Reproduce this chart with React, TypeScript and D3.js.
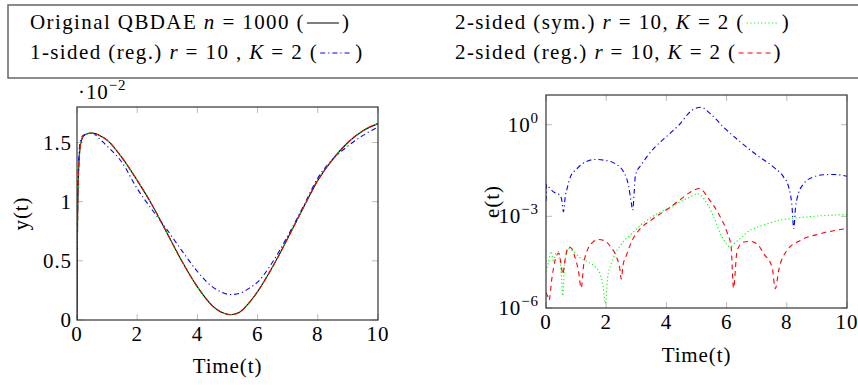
import React, { useRef, useEffect } from 'react';
import * as d3 from 'd3';

// left plot: y(t) in units of 1e-2
const timeY = [0, 0.01, 0.02, 0.04, 0.07, 0.1, 0.15, 0.2, 0.3, 0.5, 0.75, 1, 1.5, 2, 2.5, 3, 3.5, 4, 4.5, 4.8, 5.1, 5.4, 5.7, 6, 6.5, 7, 7.5, 8, 8.5, 9, 9.5, 10];
const yOriginal = [0, 0.5, 0.85, 1.15, 1.35, 1.45, 1.52, 1.55, 1.57, 1.58, 1.56, 1.52, 1.37, 1.18, 0.97, 0.73, 0.49, 0.28, 0.12, 0.065, 0.045, 0.065, 0.14, 0.24, 0.45, 0.69, 0.94, 1.18, 1.36, 1.5, 1.6, 1.66];
const yOneSided = [0, 0.6, 0.95, 1.25, 1.42, 1.5, 1.54, 1.56, 1.57, 1.58, 1.53, 1.47, 1.33, 1.11, 0.93, 0.76, 0.58, 0.41, 0.28, 0.235, 0.215, 0.225, 0.265, 0.32, 0.49, 0.71, 0.95, 1.2, 1.36, 1.47, 1.56, 1.63];

// right plot: log10 of e(t)
const timeErrBlue = [0, 0.02, 0.1, 0.25, 0.45, 0.52, 0.58, 0.64, 0.7, 0.81, 1.03, 1.31, 1.64, 1.97, 2.3, 2.58, 2.74, 2.83, 2.88, 2.93, 2.97, 3.19, 3.36, 3.63, 4.07, 4.41, 4.85, 5.15, 5.46, 5.9, 6.46, 7.01, 7.56, 7.89, 8.06, 8.17, 8.23, 8.29, 8.34, 8.56, 8.89, 9.22, 9.55, 10];
const errBlueLog = [-2.5, -1.95, -2.05, -2.2, -2.3, -2.45, -2.85, -2.35, -2.09, -1.71, -1.44, -1.22, -1.14, -1.17, -1.28, -1.55, -1.99, -2.53, -2.8, -2.2, -1.66, -1.28, -1.04, -0.73, -0.33, -0.02, 0.47, 0.57, 0.36, -0.08, -0.57, -1.0, -1.39, -1.71, -2.04, -2.64, -3.4, -2.7, -2.42, -1.93, -1.71, -1.64, -1.63, -1.69];

const timeErrGreen = [0, 0.08, 0.17, 0.25, 0.33, 0.42, 0.5, 0.56, 0.62, 0.75, 0.9, 1.1, 1.4, 1.64, 1.8, 1.9, 1.97, 2.05, 2.15, 2.25, 2.52, 2.91, 3.13, 3.5, 4.13, 4.5, 4.79, 5.02, 5.35, 5.57, 5.85, 6.12, 6.3, 6.46, 6.79, 7.12, 7.78, 8.67, 10];
const errGreenLog = [-4.8, -4.5, -4.15, -4.5, -4.2, -4.15, -4.8, -5.6, -4.6, -4.05, -4.15, -4.33, -4.5, -4.66, -4.9, -5.3, -5.85, -5.0, -4.6, -4.33, -3.89, -3.51, -3.3, -3.03, -2.7, -2.5, -2.37, -2.26, -2.58, -3.02, -3.68, -4.0, -3.85, -3.72, -3.45, -3.32, -3.13, -3.02, -2.94];

const timeErrRed = [0, 0.05, 0.1, 0.2, 0.3, 0.42, 0.5, 0.56, 0.62, 0.75, 0.85, 0.95, 1.08, 1.17, 1.25, 1.4, 1.55, 1.75, 1.95, 2.15, 2.35, 2.45, 2.5, 2.56, 2.67, 2.86, 3.08, 3.5, 4.13, 4.5, 4.79, 5.1, 5.4, 5.73, 6.01, 6.15, 6.23, 6.35, 6.57, 6.79, 7.06, 7.23, 7.51, 7.62, 7.73, 8.01, 8.45, 9.11, 10];
const errRedLog = [-5.5, -5.6, -5.75, -5.0, -4.45, -4.2, -4.55, -4.9, -4.5, -4.0, -4.05, -4.3, -4.8, -5.35, -4.6, -4.05, -3.85, -3.76, -3.8, -4.0, -4.35, -4.7, -5.05, -4.6, -4.28, -3.79, -3.46, -3.12, -2.7, -2.42, -2.21, -2.09, -2.42, -2.91, -3.51, -4.0, -5.35, -4.11, -3.84, -3.82, -3.95, -4.22, -4.66, -5.37, -4.77, -4.11, -3.79, -3.57, -3.4];

const xTicks = [0, 2, 4, 6, 8, 10];
const yTicksLeft = [0, 0.5, 1, 1.5];
const yTicksRightExp = [-6, -3, 0];

const FONT = '"Liberation Serif", "DejaVu Serif", serif';
const FS = 21;
const SUP = 15;

const App: React.FC = () => {
  const svgRef = useRef<SVGSVGElement | null>(null);

  useEffect(() => {
    const svg = d3.select(svgRef.current);
    svg.selectAll('*').remove();
    svg.attr('font-family', FONT).attr('letter-spacing', 0.9);

    // ---------- legend ----------
    const lg = svg.append('g').attr('letter-spacing', 1.4);
    lg.append('rect').attr('x', 8).attr('y', 5).attr('width', 870).attr('height', 73)
      .attr('fill', 'white').attr('stroke', '#666').attr('stroke-width', 1.5);

    type Part = { s: string; it?: boolean };
    const entry = (x: number, y: number, parts: Part[], color: string, dash: string | null) => {
      const t = lg.append('text').attr('x', x).attr('y', y).attr('font-size', FS)
        .style('white-space', 'pre');
      parts.forEach(p => t.append('tspan').attr('font-style', p.it ? 'italic' : null).text(p.s));
      const w = (t.node() as SVGTextElement).getComputedTextLength();
      lg.append('line').attr('x1', x + w + 2).attr('x2', x + w + 34)
        .attr('y1', y - 6).attr('y2', y - 6)
        .attr('stroke', color).attr('stroke-width', 1.2)
        .attr('stroke-dasharray', dash);
      lg.append('text').attr('x', x + w + 37).attr('y', y).attr('font-size', FS).text(')');
    };
    entry(30, 29, [{ s: 'Original QBDAE ' }, { s: 'n', it: true }, { s: ' = 1000 (' }], 'black', null);
    entry(455, 29, [{ s: '2-sided (sym.) ' }, { s: 'r', it: true }, { s: ' = 10, ' }, { s: 'K', it: true }, { s: ' = 2 (' }], '#00ff00', '1.2,2.4');
    entry(30, 59, [{ s: '1-sided (reg.) ' }, { s: 'r', it: true }, { s: ' = 10 , ' }, { s: 'K', it: true }, { s: ' = 2 (' }], 'blue', '5,3,1.2,3');
    entry(455, 59, [{ s: '2-sided (reg.) ' }, { s: 'r', it: true }, { s: ' = 10, ' }, { s: 'K', it: true }, { s: ' = 2 (' }], 'red', '5,4');

    // ---------- left plot ----------
    const L = { x0: 77, x1: 378, y0: 107, y1: 320 };
    const xl = d3.scaleLinear().domain([0, 10]).range([L.x0, L.x1]);
    const yl = d3.scaleLinear().domain([0, 1.8]).range([L.y1, L.y0]);

    const defs = svg.append('defs');
    defs.append('clipPath').attr('id', 'clipL').append('rect')
      .attr('x', L.x0).attr('y', L.y0).attr('width', L.x1 - L.x0).attr('height', L.y1 - L.y0);

    const gl = svg.append('g');
    xTicks.forEach(v => {
      gl.append('line').attr('x1', xl(v)).attr('x2', xl(v)).attr('y1', L.y1).attr('y2', L.y1 - 6).attr('stroke', '#bbb');
      gl.append('line').attr('x1', xl(v)).attr('x2', xl(v)).attr('y1', L.y0).attr('y2', L.y0 + 6).attr('stroke', '#bbb');
      gl.append('text').attr('x', xl(v)).attr('y', 341).attr('text-anchor', 'middle').attr('font-size', FS).text(String(v));
    });
    yTicksLeft.forEach(v => {
      gl.append('line').attr('x1', L.x0).attr('x2', L.x0 + 6).attr('y1', yl(v)).attr('y2', yl(v)).attr('stroke', '#bbb');
      gl.append('line').attr('x1', L.x1).attr('x2', L.x1 - 6).attr('y1', yl(v)).attr('y2', yl(v)).attr('stroke', '#bbb');
      gl.append('text').attr('x', 72).attr('y', yl(v) + 7).attr('text-anchor', 'end').attr('font-size', FS).text(String(v));
    });

    const lineL = (ts: number[], ys: number[]) =>
      d3.line<number>().x((_, i) => xl(ts[i])).y(d => yl(d)).curve(d3.curveMonotoneX)(ys);

    const pl = gl.append('g').attr('clip-path', 'url(#clipL)').attr('fill', 'none');
    pl.append('path').attr('d', lineL(timeY, yOriginal)).attr('stroke', 'black').attr('stroke-width', 1.1);
    pl.append('path').attr('d', lineL(timeY, yOneSided)).attr('stroke', 'blue').attr('stroke-width', 1.1).attr('stroke-dasharray', '5,3,1.2,3');
    pl.append('path').attr('d', lineL(timeY, yOriginal)).attr('stroke', '#00ff00').attr('stroke-width', 1.1).attr('stroke-dasharray', '1.2,2.4');
    pl.append('path').attr('d', lineL(timeY, yOriginal)).attr('stroke', 'red').attr('stroke-width', 1.1).attr('stroke-dasharray', '5,4');

    gl.append('rect').attr('x', L.x0).attr('y', L.y0).attr('width', L.x1 - L.x0).attr('height', L.y1 - L.y0)
      .attr('fill', 'none').attr('stroke', '#333').attr('stroke-width', 1.2);

    const sc = gl.append('text').attr('x', 78).attr('y', 99).attr('font-size', FS);
    sc.append('tspan').text('·10');
    sc.append('tspan').attr('dy', -9).attr('font-size', SUP).text('−2');

    gl.append('text').attr('x', (L.x0 + L.x1) / 2).attr('y', 373).attr('text-anchor', 'middle').attr('font-size', FS).text('Time(t)');
    gl.append('text').attr('transform', `translate(28,${(L.y0 + L.y1) / 2}) rotate(-90)`)
      .attr('text-anchor', 'middle').attr('font-size', FS).text('y(t)');

    // ---------- right plot ----------
    const R = { x0: 546, x1: 847, y0: 95, y1: 308 };
    const xr = d3.scaleLinear().domain([0, 10]).range([R.x0, R.x1]);
    const yr = d3.scaleLog().domain([1e-6, Math.pow(10, 0.97)]).range([R.y1, R.y0]);

    defs.append('clipPath').attr('id', 'clipR').append('rect')
      .attr('x', R.x0).attr('y', R.y0).attr('width', R.x1 - R.x0).attr('height', R.y1 - R.y0);

    const gr = svg.append('g');
    xTicks.forEach(v => {
      gr.append('line').attr('x1', xr(v)).attr('x2', xr(v)).attr('y1', R.y1).attr('y2', R.y1 - 6).attr('stroke', '#bbb');
      gr.append('line').attr('x1', xr(v)).attr('x2', xr(v)).attr('y1', R.y0).attr('y2', R.y0 + 6).attr('stroke', '#bbb');
      gr.append('text').attr('x', xr(v)).attr('y', 329).attr('text-anchor', 'middle').attr('font-size', FS).text(String(v));
    });
    yTicksRightExp.forEach(e => {
      const yy = yr(Math.pow(10, e));
      gr.append('line').attr('x1', R.x0).attr('x2', R.x0 + 6).attr('y1', yy).attr('y2', yy).attr('stroke', '#bbb');
      gr.append('line').attr('x1', R.x1).attr('x2', R.x1 - 6).attr('y1', yy).attr('y2', yy).attr('stroke', '#bbb');
      const t = gr.append('text').attr('x', 539).attr('y', yy + 7).attr('text-anchor', 'end').attr('font-size', FS);
      t.append('tspan').text('10');
      t.append('tspan').attr('dy', -9).attr('font-size', SUP).text(e === 0 ? '0' : `−${-e}`);
    });

    const lineR = (ts: number[], es: number[]) =>
      d3.line<number>().x((_, i) => xr(ts[i])).y(d => yr(Math.pow(10, d))).curve(d3.curveMonotoneX)(es);

    const pr = gr.append('g').attr('clip-path', 'url(#clipR)').attr('fill', 'none');
    pr.append('path').attr('d', lineR(timeErrBlue, errBlueLog)).attr('stroke', 'blue').attr('stroke-width', 1.1).attr('stroke-dasharray', '5,3,1.2,3');
    pr.append('path').attr('d', lineR(timeErrGreen, errGreenLog)).attr('stroke', '#00ff00').attr('stroke-width', 1.1).attr('stroke-dasharray', '1.2,2.4');
    pr.append('path').attr('d', lineR(timeErrRed, errRedLog)).attr('stroke', 'red').attr('stroke-width', 1.1).attr('stroke-dasharray', '5,4');

    gr.append('rect').attr('x', R.x0).attr('y', R.y0).attr('width', R.x1 - R.x0).attr('height', R.y1 - R.y0)
      .attr('fill', 'none').attr('stroke', '#333').attr('stroke-width', 1.2);

    gr.append('text').attr('x', (R.x0 + R.x1) / 2).attr('y', 362).attr('text-anchor', 'middle').attr('font-size', FS).text('Time(t)');
    gr.append('text').attr('transform', `translate(499,${(R.y0 + R.y1) / 2}) rotate(-90)`)
      .attr('text-anchor', 'middle').attr('font-size', FS).text('e(t)');
  }, []);

  return (
    <svg ref={svgRef} width={858} height={385}
      style={{ position: 'absolute', left: 0, top: 0, background: 'white' }} />
  );
};

export default App;
